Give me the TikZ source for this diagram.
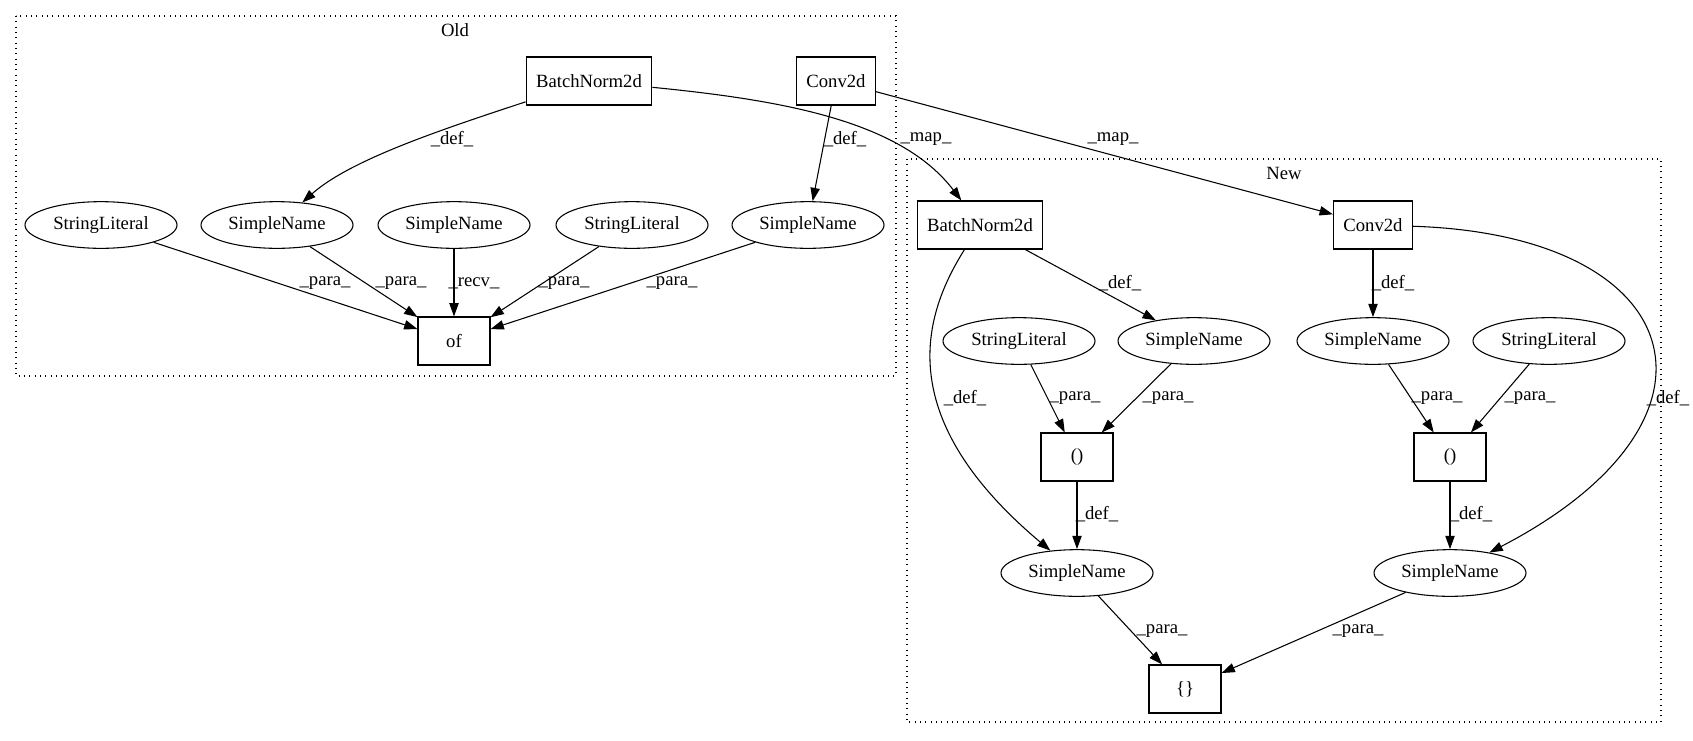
\documentclass[tikz,border=0pt]{standalone}
\usepackage{fontspec}
\setmainfont{Liberation Serif}
\usetikzlibrary{arrows.meta, shapes.geometric}

\begin{document}
\begin{tikzpicture}[
    x=0.75pt, y=-0.75pt,
    every node/.style={font=\fontsize{14}{16}\selectfont},
    box/.style={draw, rectangle, line width=0.8pt, minimum width=54pt, minimum height=36pt, inner xsep=7.5pt},
    ast/.style={draw, ellipse, line width=0.8pt, minimum width=114pt, minimum height=35pt, inner sep=0pt},
    lbl/.style={inner sep=0pt},
    flow/.style={line width=0.8pt, -{Triangle[length=10pt, width=7pt]}},
    cluster/.style={line width=0.8pt, dash pattern=on 0.8pt off 3.2pt},
]
\useasboundingbox (0,0) rectangle (1693,740);

% Cluster frames
\draw[cluster] (16,16) rectangle (896,376);
\draw[cluster] (907,159) rectangle (1661,722);
\node (old) at (455,30) {Old};
\node (new) at (1284,173) {New};

% ================================================================
% OLD
% ================================================================
\node[box] (bno) at (589,81) {BatchNorm2d};
\node[box] (cvo) at (836,81) {Conv2d};
\node[ast] (slo1) at (101,225) {StringLiteral};
\node[ast] (sno1) at (277,225) {SimpleName};
\node[ast] (sno2) at (454,225) {SimpleName};
\node[ast] (slo2) at (632,225) {StringLiteral};
\node[ast] (sno3) at (808,225) {SimpleName};
\node[box] (of) at (454,341) {of};

\draw[flow] (bno) .. controls (440,130) and (350,160) .. (sno1);
\draw[flow] (cvo) -- (sno3);
\draw[flow] (slo1) -- (of);
\draw[flow] (sno1) -- (of);
\draw[flow] (sno2) -- (of);
\draw[flow] (slo2) -- (of);
\draw[flow] (sno3) -- (of);

\node[lbl] (ldef1) at (452,139) {\_def\_};
\node[lbl] (ldef2) at (845,139) {\_def\_};
\node[lbl] (lpara1) at (325,283) {\_para\_};
\node[lbl] (lpara2) at (401,283) {\_para\_};
\node[lbl] (lrecv) at (474,283) {\_recv\_};
\node[lbl] (lpara3) at (564,283) {\_para\_};
\node[lbl] (lpara4) at (672,283) {\_para\_};

% ================================================================
% NEW
% ================================================================
\node[box] (bnn) at (980,225) {BatchNorm2d};
\node[box] (cvn) at (1373,225) {Conv2d};
\node[ast] (sln1) at (1019,341) {StringLiteral};
\node[ast] (snn1) at (1194,341) {SimpleName};
\node[ast] (snn2) at (1373,341) {SimpleName};
\node[ast] (sln2) at (1549,341) {StringLiteral};
\node[box] (pl) at (1077,457) {()};
\node[box] (pr) at (1450,457) {()};
\node[ast] (snl) at (1077,573) {SimpleName};
\node[ast] (snr) at (1450,573) {SimpleName};
\node[box] (blk) at (1185,689) {\{\}};

\draw[flow] (bnn) -- (snn1);
\draw[flow] (bnn) .. controls (920,320) and (895,420) .. (snl);
\draw[flow] (cvn) -- (snn2);
\draw[flow] (cvn) .. controls (1690,235) and (1745,420) .. (snr);
\draw[flow] (sln1) -- (pl);
\draw[flow] (snn1) -- (pl);
\draw[flow] (snn2) -- (pr);
\draw[flow] (sln2) -- (pr);
\draw[flow] (pl) -- (snl);
\draw[flow] (pr) -- (snr);
\draw[flow] (snl) -- (blk);
\draw[flow] (snr) -- (blk);

\node[lbl] (ldef3) at (1120,283) {\_def\_};
\node[lbl] (ldef4) at (1393,283) {\_def\_};
\node[lbl] (ldef5) at (965,398) {\_def\_};
\node[lbl] (lpara5) at (1075,398) {\_para\_};
\node[lbl] (lpara6) at (1168,398) {\_para\_};
\node[lbl] (lpara7) at (1437,398) {\_para\_};
\node[lbl] (lpara8) at (1530,398) {\_para\_};
\node[lbl] (ldef6) at (1668,398) {\_def\_};
\node[lbl] (ldef7) at (1097,514) {\_def\_};
\node[lbl] (ldef8) at (1471,514) {\_def\_};
\node[lbl] (lpara9) at (1162,631) {\_para\_};
\node[lbl] (lpara10) at (1358,631) {\_para\_};

% ================================================================
% OLD -> NEW
% ================================================================
\draw[flow] (bno) .. controls (780,100) and (900,120) .. (bnn);
\draw[flow] (cvo) -- (cvn);
\node[lbl] (lmap1) at (926,139) {\_map\_};
\node[lbl] (lmap2) at (1113,139) {\_map\_};

\end{tikzpicture}
\end{document}
